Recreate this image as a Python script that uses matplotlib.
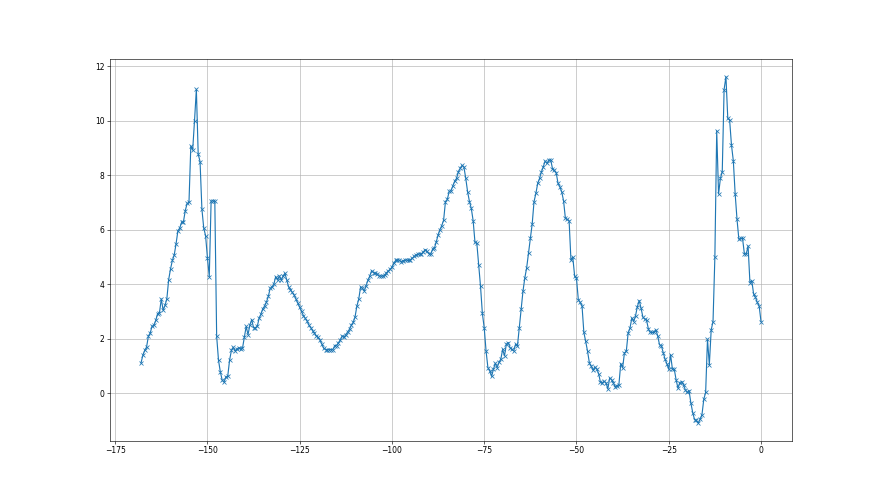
import numpy as np
import matplotlib
matplotlib.use('Agg')
import matplotlib.pyplot as plt

# readings every half hour, last week (x = hours before now)
seg_a = [1.11, 1.39, 1.57, 1.69, 2.09, 2.21, 2.46, 2.49, 2.67, 2.92,
         2.95, 3.46, 3.04, 3.22, 3.46, 4.17, 4.56, 4.87, 5.07, 5.48,
         5.96, 6.06, 6.27, 6.29, 6.70, 6.96, 7.00, 9.07, 8.92, 9.99,
         11.15, 8.77, 8.50, 6.76, 6.06, 5.78, 4.97, 4.28, 7.05, 7.06,
         7.05, 2.09, 1.21, 0.78, 0.48, 0.41, 0.60, 0.62, 1.21, 1.57,
         1.69]
seg_b = [1.55, 1.62, 1.67, 1.62, 1.65, 2.05, 2.45, 2.15, 2.5, 2.7,
         2.4, 2.4, 2.45, 2.75, 2.9, 3.1, 3.2, 3.35, 3.55, 3.85,
         3.9, 4.0, 4.28, 4.15, 4.3, 4.15, 4.3, 4.4, 4.15, 3.9,
         3.8, 3.7, 3.6, 3.45, 3.3, 3.15, 3.0, 2.85, 2.75, 2.65,
         2.5, 2.4, 2.3, 2.2, 2.1, 2.05, 1.95, 1.8, 1.65, 1.6,
         1.6, 1.6, 1.6, 1.6, 1.75, 1.75, 1.85, 1.95, 2.1]
seg_c = [2.05, 2.15, 2.25, 2.35, 2.5, 2.6, 2.8, 3.2, 3.45, 3.9,
         3.85, 3.75, 3.95, 4.15, 4.3, 4.5, 4.42, 4.4, 4.38, 4.3,
         4.3, 4.3, 4.32, 4.42, 4.48, 4.55, 4.62, 4.77, 4.87, 4.89,
         4.88, 4.83, 4.86, 4.88, 4.89, 4.87, 4.89, 4.95, 5.02, 5.07,
         5.1, 5.11, 5.11, 5.18, 5.27, 5.2, 5.12, 5.1, 5.28, 5.32,
         5.55, 5.8, 6.0, 6.15, 6.35]
seg_d = [7.03, 7.11, 7.4, 7.43, 7.6, 7.78, 7.88, 8.12, 8.25, 8.36,
         8.3, 7.88, 7.39, 7.03, 6.78, 6.33, 5.53, 5.5, 4.72, 3.92,
         2.93, 2.4, 1.55, 0.94, 0.82, 0.62, 0.88, 1.1, 0.94, 1.13,
         1.25, 1.61, 1.37, 1.8, 1.86, 1.67, 1.61, 1.55, 1.8, 1.73,
         2.4, 3.1, 3.74, 4.23, 4.6, 5.14, 5.69, 6.21, 7.03, 7.33,
         7.7, 7.88, 8.12, 8.3, 8.52, 8.43, 8.55]
seg_e = [8.57, 8.24, 8.18, 8.09, 7.7, 7.57, 7.39, 7.06, 6.41, 6.38,
         6.33, 4.89, 4.99, 4.3, 4.22, 3.43, 3.33, 3.21, 2.23, 1.9,
         1.54, 1.11, 0.99, 0.84, 0.96, 0.89, 0.72, 0.4, 0.38, 0.44,
         0.38, 0.16, 0.56, 0.5, 0.38, 0.23, 0.28, 0.32, 1.09, 0.93,
         1.48, 1.54, 2.21, 2.39, 2.76, 2.63, 2.84, 3.18, 3.4, 3.12,
         2.79, 2.72, 2.67, 2.35, 2.23, 2.23, 2.23, 2.33, 2.11, 1.78]
seg_f = [1.74, 1.49, 1.25, 1.08, 0.88, 1.41, 0.88, 0.88, 0.49, 0.19,
         0.39, 0.43, 0.31, 0.12, 0.03, 0.1, -0.36, -0.71, -0.97, -1.0,
         -1.1, -0.95, -0.79, -0.22, 0.03, 1.98, 1.04, 2.32, 2.63, 4.99,
         9.63, 7.31, 7.88, 8.13, 11.14, 11.61, 10.08, 10.02, 9.1, 8.53,
         7.31, 6.38, 5.65, 5.68, 5.68, 5.11, 5.11, 5.4, 4.06, 4.13,
         3.64, 3.52, 3.33, 3.2, 2.63]

values = np.array(seg_a + seg_b + seg_c + seg_d + seg_e + seg_f)
hours = np.linspace(-168, 0, len(values))

fig = plt.figure(figsize=(16, 9), dpi=55)
plt.plot(hours, values, marker='x')
plt.grid(True)
plt.savefig('out.png', dpi=55)
